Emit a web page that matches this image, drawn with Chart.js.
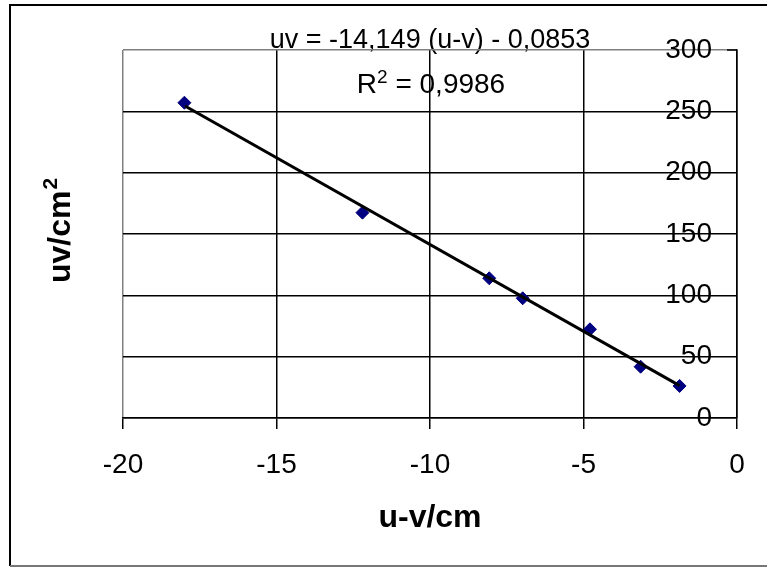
<!DOCTYPE html>
<html>
<head>
<meta charset="utf-8">
<title>uv against u-v</title>
<script src="https://cdn.jsdelivr.net/npm/chart.js@4.4.1/dist/chart.umd.min.js"></script>
<style>
  html, body { margin: 0; padding: 0; background: #fff; }
  canvas { display: block; }
</style>
</head>
<body>
<canvas id="uvChart" width="767" height="567"></canvas>
<script>
// measured points (u-v in cm, uv in cm^2)
const uMinusV = [-18.0, -12.2, -8.07, -6.98, -4.79, -3.14, -1.87];
const uvValues = [257.0, 167.4, 113.9, 97.6, 72.3, 41.8, 26.1];

// ends of the linear trendline
const fitX = [-17.98, -1.87];
const fitY = [254.3, 26.4];

// axis ranges and tick steps
const xRange = [-20, 0];
const xStep = 5;
const yRange = [0, 300];
const yStep = 50;

const equationText = 'uv = -14,149 (u-v) - 0,0853';
const r2Text = ' = 0,9986';
const xTitle = 'u-v/cm';
const yTitle = 'uv/cm';

const FONT = '"Liberation Sans", Arial, sans-serif';
Chart.defaults.color = '#000';
Chart.defaults.font.family = FONT;

// frame, axis title on the left and the trendline labels (drawn under the grid)
const textPlugin = {
  id: 'textPlugin',
  beforeDraw(chart) {
    const ctx = chart.ctx;
    ctx.save();
    ctx.fillStyle = '#fff';
    ctx.fillRect(0, 0, chart.width, chart.height);

    // outer frame
    ctx.strokeStyle = '#000';
    ctx.lineWidth = 2;
    ctx.beginPath();
    ctx.moveTo(10, 566);
    ctx.lineTo(10, 5);
    ctx.lineTo(800, 5);
    ctx.stroke();
    ctx.strokeStyle = '#777';
    ctx.beginPath();
    ctx.moveTo(10, 566);
    ctx.lineTo(800, 566);
    ctx.stroke();

    ctx.fillStyle = '#000';
    ctx.textBaseline = 'alphabetic';

    // equation
    ctx.font = '27px ' + FONT;
    ctx.textAlign = 'center';
    ctx.fillText(equationText, 430, 48);

    // R squared
    ctx.textAlign = 'left';
    ctx.font = '28px ' + FONT;
    const wR = ctx.measureText('R').width;
    const wRest = ctx.measureText(r2Text).width;
    ctx.font = '19px ' + FONT;
    const w2 = ctx.measureText('2').width;
    let x0 = 431 - (wR + w2 + wRest) / 2;
    ctx.font = '28px ' + FONT;
    ctx.fillText('R', x0, 93);
    ctx.font = '19px ' + FONT;
    ctx.fillText('2', x0 + wR, 83);
    ctx.font = '28px ' + FONT;
    ctx.fillText(r2Text, x0 + wR + w2, 93);

    // y title, rotated
    ctx.translate(70, 283);
    ctx.rotate(-Math.PI / 2);
    ctx.font = 'bold 32px ' + FONT;
    const wT = ctx.measureText(yTitle).width;
    ctx.fillText(yTitle, 0, 0);
    ctx.font = 'bold 21px ' + FONT;
    ctx.fillText('2', wT + 1, -13);
    ctx.restore();
  },
  afterDraw(chart) {
    // small inner tick at the top of the value axis
    const ctx = chart.ctx;
    const a = chart.chartArea;
    const y = chart.scales.y.getPixelForValue(yRange[1]);
    ctx.save();
    ctx.strokeStyle = '#000';
    ctx.lineWidth = 1.5;
    ctx.beginPath();
    ctx.moveTo(a.right - 10, y);
    ctx.lineTo(a.right, y);
    ctx.stroke();
    ctx.restore();
  }
};

const points = uMinusV.map((x, i) => ({ x: x, y: uvValues[i] }));
const fitLine = fitX.map((x, i) => ({ x: x, y: fitY[i] }));

const config = {
  type: 'scatter',
  data: {
    datasets: [
      {
        type: 'line',
        label: 'Linear fit',
        data: fitLine,
        borderColor: '#000',
        borderWidth: 3,
        pointRadius: 0,
        fill: false
      },
      {
        label: 'uv',
        data: points,
        pointStyle: 'rectRot',
        pointRadius: 6.5,
        backgroundColor: '#000080',
        borderColor: '#000080',
        borderWidth: 1
      }
    ]
  },
  options: {
    responsive: false,
    animation: false,
    devicePixelRatio: 1,
    layout: { padding: { top: 50, left: 123, right: 0, bottom: 0 } },
    plugins: {
      legend: { display: false },
      tooltip: { enabled: false }
    },
    scales: {
      x: {
        type: 'linear',
        position: 'bottom',
        min: xRange[0],
        max: xRange[1],
        ticks: { stepSize: xStep, font: { size: 28 }, padding: 19 },
        grid: {
          color: ctx => ctx.tick && ctx.tick.value === xRange[0] ? '#808080' : '#000',
          tickColor: '#000',
          tickLength: 11,
          lineWidth: 1.5
        },
        border: { color: '#000', width: 1.5 },
        title: {
          display: true,
          text: xTitle,
          font: { size: 32, weight: 'bold' },
          padding: { top: 0, bottom: 30 }
        },
        afterFit(scale) { scale.height = 149; }
      },
      y: {
        type: 'linear',
        position: 'right',
        min: yRange[0],
        max: yRange[1],
        // mirrored labels sit inside the plot, just left of the axis
        ticks: { stepSize: yStep, font: { size: 28 }, mirror: true, padding: -25 },
        grid: {
          color: ctx => ctx.tick && ctx.tick.value === yRange[1] ? '#808080' : '#000',
          drawTicks: false,
          lineWidth: 1.5
        },
        border: { color: '#000', width: 1.5 },
        afterFit(scale) { scale.width = 30; }
      }
    }
  },
  plugins: [textPlugin]
};

const uvChart = new Chart(document.getElementById('uvChart'), config);
</script>
</body>
</html>
